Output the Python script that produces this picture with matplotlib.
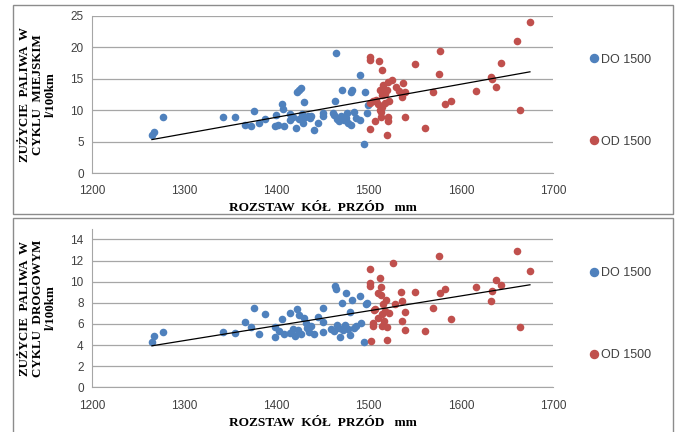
import matplotlib
matplotlib.use("Agg")
import matplotlib.pyplot as plt
from matplotlib.patches import Rectangle
from matplotlib.lines import Line2D
import numpy as np

# ── data: city cycle (top panel) ─────────────────
city_do_x = [1265, 1267, 1277, 1342, 1355, 1366, 1372, 1376, 1381, 1388,
             1398, 1400, 1402, 1406, 1407, 1408, 1415, 1415, 1418, 1421,
             1422, 1425, 1427, 1424, 1428, 1429, 1430, 1431, 1434, 1436,
             1438, 1441, 1445, 1451, 1451, 1461, 1463, 1464, 1465, 1466,
             1468, 1470, 1471, 1473, 1475, 1477, 1478, 1481, 1481, 1482,
             1484, 1486, 1491, 1491, 1495, 1496, 1498, 1499]
city_do_y = [6.0, 6.5, 8.85, 8.85, 8.85, 7.6, 7.4, 9.8, 8.0, 8.6,
             7.4, 9.2, 7.6, 11.0, 10.2, 7.5, 9.4, 8.4, 8.85, 7.1,
             12.9, 13.2, 13.5, 8.6, 9.3, 7.9, 11.3, 8.9, 9.0, 8.7,
             9.1, 6.9, 8.0, 9.5, 9.0, 9.5, 9.2, 11.5, 19.0, 8.6,
             8.2, 9.0, 13.2, 8.4, 8.8, 9.6, 8.0, 7.6, 12.9, 13.2,
             9.7, 8.8, 8.4, 15.6, 4.6, 12.9, 9.5, 10.8]

city_od_x = [1501, 1501, 1511, 1515, 1550, 1577, 1576, 1570, 1583, 1589,
             1561, 1539, 1520, 1502, 1507, 1513, 1513, 1521, 1521, 1525,
             1521, 1516, 1512, 1514, 1518, 1520, 1530, 1533, 1537, 1536,
             1540, 1505, 1501, 1510, 1514, 1518, 1522, 1512, 1508, 1675,
             1661, 1644, 1633, 1634, 1616, 1638, 1664]
city_od_y = [18.5, 18.0, 17.8, 16.4, 17.3, 19.4, 15.7, 12.9, 10.9, 11.4,
             7.1, 8.85, 6.0, 7.0, 8.3, 8.95, 9.75, 8.2, 8.95, 14.8,
             14.4, 14.0, 13.2, 12.4, 12.6, 13.2, 13.6, 13.1, 14.3, 12.0,
             12.8, 11.5, 11.1, 11.0, 10.5, 11.2, 11.4, 10.0, 11.6, 24.0,
             20.9, 17.5, 15.3, 15.0, 13.1, 13.7, 10.0]

# ── data: road cycle (bottom panel) ──────────────
road_do_x = [1265, 1267, 1277, 1342, 1355, 1366, 1372, 1376, 1381, 1388,
             1399, 1399, 1403, 1406, 1408, 1415, 1415, 1418, 1420, 1422,
             1423, 1425, 1427, 1430, 1432, 1433, 1435, 1437, 1441, 1445,
             1450, 1451, 1451, 1459, 1462, 1464, 1465, 1466, 1468, 1469,
             1471, 1472, 1474, 1476, 1478, 1480, 1480, 1482, 1484, 1486,
             1491, 1495, 1498, 1497, 1492]
road_do_y = [4.3, 4.85, 5.2, 5.2, 5.1, 6.2, 5.7, 7.5, 5.0, 6.9,
             5.7, 4.8, 5.3, 6.5, 5.0, 7.0, 5.1, 5.5, 4.9, 7.4,
             5.4, 6.8, 5.0, 6.6, 6.1, 5.6, 5.2, 5.8, 5.0, 6.7,
             7.5, 6.2, 5.25, 5.5, 5.3, 9.6, 9.3, 5.9, 5.6, 4.8,
             8.0, 5.4, 5.9, 8.95, 5.5, 7.15, 4.95, 8.3, 5.6, 5.8,
             8.6, 4.3, 8.0, 7.9, 6.1]

road_od_x = [1502, 1501, 1501, 1503, 1507, 1576, 1526, 1512, 1513, 1510,
             1513, 1535, 1550, 1577, 1583, 1570, 1589, 1561, 1539, 1520,
             1505, 1505, 1514, 1520, 1536, 1529, 1536, 1540, 1519, 1516,
             1506, 1510, 1514, 1518, 1522, 1517, 1661, 1675, 1638, 1644,
             1616, 1634, 1633, 1664]
road_od_y = [11.2, 9.9, 9.6, 4.4, 7.4, 12.4, 11.8, 10.3, 9.5, 8.95,
             8.7, 9.05, 9.05, 8.9, 9.3, 7.55, 6.5, 5.3, 5.4, 4.5,
             5.8, 6.05, 5.8, 5.7, 6.3, 7.9, 8.2, 7.15, 8.3, 7.9,
             7.3, 6.6, 6.9, 7.2, 7.0, 6.3, 12.9, 11.0, 10.2, 9.7,
             9.5, 9.1, 8.2, 5.7]

BLUE = "#4F81BD"
RED = "#C0504D"
GRID = "#A6A6A6"
TICK = "#404040"
SERIF = "Liberation Serif"
SANS = "Liberation Sans"

W, H = 680, 432
fig = plt.figure(figsize=(W / 100, H / 100), dpi=100)


def px_box(x0, y0, x1, y1):
    # pixel box (top-left origin) -> figure fraction [l, b, w, h]
    return [x0 / W, 1 - y1 / H, (x1 - x0) / W, (y1 - y0) / H]


# chart frames
for (x0, y0, x1, y1) in [(13, 5, 673, 214), (13, 218, 673, 440)]:
    l, b, w, h = px_box(x0, y0, x1, y1)
    fig.patches.append(Rectangle((l, b), w, h, transform=fig.transFigure,
                                 fill=False, edgecolor="#8C8C8C", lw=1.0))


def panel(box, dx, dy, ox, oy, ylim, yticks, ylabel, xlabel_y):
    ax = fig.add_axes(px_box(*box))
    ax.scatter(dx, dy, s=30, color=BLUE, zorder=3, linewidths=0)
    ax.scatter(ox, oy, s=30, color=RED, zorder=3, linewidths=0)

    # linear trend over all points
    xs = np.array(dx + ox, dtype=float)
    ys = np.array(dy + oy, dtype=float)
    k, b = np.polyfit(xs, ys, 1)
    xl = np.array([xs.min(), xs.max()])
    ax.plot(xl, k * xl + b, color="black", lw=0.9, zorder=4)

    ax.set_xlim(1200, 1700)
    ax.set_ylim(*ylim)
    ax.set_xticks([1200, 1300, 1400, 1500, 1600, 1700])
    ax.set_yticks(yticks)
    ax.yaxis.grid(True, color=GRID, lw=0.9)
    ax.set_axisbelow(True)
    for s in ["top", "right"]:
        ax.spines[s].set_visible(False)
    ax.spines["left"].set_color(GRID)
    ax.spines["bottom"].set_color(GRID)
    ax.tick_params(length=0, labelsize=8.5, labelcolor=TICK, pad=6)
    for t in ax.get_xticklabels() + ax.get_yticklabels():
        t.set_fontfamily(SANS)
    ax.tick_params(axis="x", pad=9)

    ax.text(-0.118, 0.5, ylabel, transform=ax.transAxes, rotation=90,
            ha="center", va="center", fontfamily=SERIF, fontweight="bold",
            fontsize=9.4, linespacing=1.1)
    fig.text(323 / W, 1 - xlabel_y / H, "ROZSTAW  KÓŁ  PRZÓD   mm",
             ha="center", va="center", fontfamily=SERIF, fontweight="bold",
             fontsize=9.6)

    handles = [Line2D([], [], ls="", marker="o", ms=5.8, color=BLUE, mec=BLUE),
               Line2D([], [], ls="", marker="o", ms=5.8, color=RED, mec=RED)]
    leg = ax.legend(handles, ["DO 1500", "OD 1500"], loc="upper left",
                    bbox_to_anchor=(1.05, 0.83), frameon=False,
                    labelspacing=5.6, handletextpad=0.1, handlelength=1.0,
                    prop={"family": SANS, "size": 9})
    for t in leg.get_texts():
        t.set_color(TICK)
    return ax


panel((92, 15.7, 553, 173), city_do_x, city_do_y, city_od_x, city_od_y,
      (0, 25), [0, 5, 10, 15, 20, 25],
      "ZUŻYCIE  PALIWA  W\nCYKLU  MIEJSKIM\nl/100km", 208)
panel((92, 228.8, 553, 387.3), road_do_x, road_do_y, road_od_x, road_od_y,
      (0, 15), [0, 2, 4, 6, 8, 10, 12, 14],
      "ZUŻYCIE  PALIWA  W\nCYKLU  DROGOWYM\nl/100km", 423)

fig.savefig("out.png", dpi=100, facecolor="white")
